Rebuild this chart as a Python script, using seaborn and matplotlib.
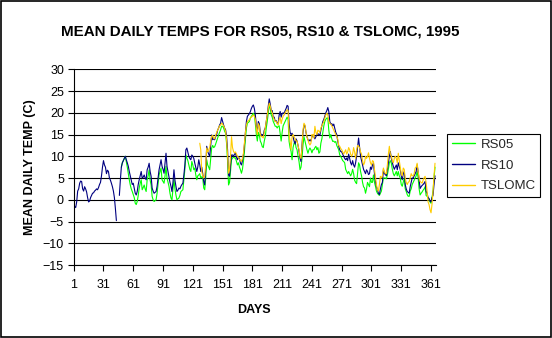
import numpy as np
import pandas as pd
import matplotlib
matplotlib.use("Agg")
import matplotlib.pyplot as plt
from matplotlib.lines import Line2D
from matplotlib.patches import Rectangle
import seaborn as sns

nan = np.nan

# Day of year 1..365
days = list(range(1, 366))

# Mean daily temperature (C) at RS10, days 1-365 (NaN = no record)
rs10 = [
    -1.5, -1.5, -1.8, -0.5, 2.0, 2.5, 3.8, 4.3, 4.2, 2.5,
    2.0, 3.0, 2.5, 1.8, 0.5, -0.5, -0.3, 0.5, 1.0, 1.5,
    1.6, 2.0, 2.2, 2.5, 2.3, 2.8, 3.5, 4.0, 5.5, 7.5,
    9.0, 8.0, 7.5, 6.0, 6.8, 6.5, 5.0, 4.5, 3.8, 3.0,
    2.0, 0.5, -2.0, -4.8, nan, nan, 1.0, 4.5, 7.5, 8.5,
    9.0, 9.5, 10.0, 9.2, 8.5, 7.7, 6.5, 5.5, 4.5, 3.5,
    3.8, 2.7, 1.5, 1.1, 1.9, 3.5, 4.6, 5.5, 6.5, 5.0,
    5.2, 5.7, 5.0, 4.6, 6.9, 7.5, 8.4, 6.5, 5.4, 2.7,
    2.0, 1.5, 1.7, 1.9, 3.1, 5.0, 6.9, 8.0, 9.2, 7.7,
    7.0, 6.1, 8.5, 10.7, 7.7, 6.5, 5.4, 4.0, 3.1, 1.9,
    4.0, 6.9, 4.5, 3.1, 1.9, 2.2, 2.7, 2.5, 3.1, 3.5,
    3.8, 5.7, 8.0, 11.5, 11.9, 11.0, 10.0, 9.5, 9.2, 10.3,
    10.0, 9.5, 8.4, 7.5, 6.5, 7.5, 9.2, 8.0, 6.5, 7.5,
    6.0, 4.2, 3.4, 7.0, 12.3, 11.1, 10.5, 10.0, 12.5, 14.9,
    13.8, 14.0, 13.8, 14.5, 15.0, 16.0, 16.5, 17.2, 17.6, 18.9,
    18.0, 17.2, 16.5, 16.1, 14.6, 11.5, 5.7, 5.4, 8.0, 10.3,
    10.3, 10.0, 10.5, 10.7, 9.8, 9.2, 9.8, 9.5, 8.4, 8.0,
    9.0, 10.3, 12.6, 15.5, 18.0, 19.2, 19.5, 19.8, 20.3, 21.0,
    21.5, 21.8, 21.0, 19.5, 17.0, 15.5, 18.0, 17.5, 15.5, 14.8,
    15.0, 14.8, 16.0, 16.5, 18.0, 19.5, 21.5, 23.2, 22.0, 20.5,
    20.5, 19.0, 19.0, 18.0, 18.2, 17.6, 17.6, 19.5, 20.3, 19.0,
    19.8, 20.0, 19.8, 20.5, 21.0, 21.7, 21.5, 17.6, 15.5, 15.0,
    15.3, 14.5, 13.5, 12.8, 14.0, 13.5, 12.5, 11.1, 9.5, 8.8,
    12.6, 15.5, 17.2, 17.0, 15.5, 14.5, 13.8, 13.5, 13.8, 13.5,
    14.5, 15.0, 14.5, 14.0, 14.5, 15.0, 15.2, 15.0, 14.8, 16.0,
    17.0, 18.0, 18.5, 19.2, 20.0, 20.5, 21.2, 20.3, 18.0, 17.4,
    17.5, 17.0, 17.4, 16.5, 15.5, 15.0, 13.5, 12.3, 11.5, 11.1,
    11.0, 10.5, 10.0, 9.5, 9.2, 9.6, 9.0, 10.5, 9.5, 8.5,
    8.0, 9.0, 8.0, 7.5, 8.5, 10.0, 12.0, 14.2, 12.0, 10.0,
    9.0, 8.0, 7.0, 6.5, 6.0, 6.9, 6.5, 5.8, 6.0, 7.5,
    7.0, 8.0, 8.4, 6.0, 4.2, 3.0, 2.3, 1.5, 1.2, 2.5,
    3.5, 4.0, 6.9, 6.0, 5.8, 5.5, 6.9, 8.5, 10.0, 11.1,
    9.5, 8.5, 7.7, 7.0, 7.5, 8.0, 6.9, 8.5, 7.7, 6.9,
    5.5, 4.6, 6.0, 6.5, 3.5, 2.5, 1.9, 1.7, 1.5, 3.0,
    4.0, 5.0, 5.0, 5.5, 6.0, 6.5, 8.0, 6.5, 4.5, 2.6,
    3.0, 3.3, 3.5, 3.8, 4.2, 2.0, 1.5, 0.5, 0.3, -0.3,
    -0.5, 0.5, 1.0, 3.5, 5.5,
]

# RS05, recording from day 49
rs05 = [nan] * 48 + [
    7.5, 8.5,
    9.0, 9.5, 10.0, 8.8, 7.5, 6.0, 4.6, 3.4, 2.5, 1.9,
    1.2, 0.5, -0.8, -1.1, -0.4, 1.0, 2.7, 3.8, 4.6, 2.3,
    2.8, 3.4, 2.5, 1.9, 4.6, 5.5, 6.9, 4.5, 3.4, 0.8,
    0.0, -0.4, -0.2, 0.0, 1.5, 3.5, 5.7, 6.5, 7.3, 4.6,
    4.2, 3.8, 5.5, 7.7, 5.0, 4.0, 3.1, 1.5, 0.4, 0.0,
    2.5, 4.6, 2.5, 1.1, 0.0, 0.2, 0.4, 1.0, 1.9, 2.1,
    2.3, 4.6, 7.0, 10.3, 9.6, 9.0, 8.0, 7.0, 6.5, 8.8,
    8.0, 6.9, 7.3, 5.7, 4.6, 5.5, 5.7, 6.0, 5.0, 5.3,
    5.0, 2.7, 2.3, 5.0, 9.2, 8.0, 7.5, 6.9, 9.5, 11.9,
    12.5, 12.0, 12.2, 12.8, 13.5, 14.2, 14.9, 15.5, 16.1, 16.9,
    16.9, 16.5, 15.8, 15.3, 13.0, 9.0, 3.4, 4.0, 6.5, 9.2,
    9.6, 9.8, 9.6, 9.6, 8.8, 8.0, 8.5, 7.5, 6.9, 6.1,
    7.0, 8.8, 11.1, 14.0, 16.5, 17.6, 17.8, 18.0, 18.8, 19.2,
    19.5, 19.9, 19.5, 17.5, 15.0, 13.5, 15.5, 15.0, 13.5, 13.0,
    12.2, 12.0, 13.5, 14.5, 16.5, 18.0, 20.0, 21.8, 21.0, 19.5,
    19.0, 18.0, 17.5, 16.9, 16.9, 16.5, 16.9, 17.0, 15.3, 13.5,
    15.5, 17.0, 17.5, 18.0, 18.5, 19.0, 18.5, 13.4, 12.0, 11.1,
    9.2, 12.0, 13.0, 13.5, 12.0, 11.5, 10.0, 8.8, 6.9, 7.5,
    9.5, 12.6, 14.5, 13.5, 12.6, 11.5, 10.7, 11.5, 11.9, 11.5,
    10.8, 11.5, 11.5, 12.0, 12.3, 11.5, 12.0, 10.7, 11.0, 13.0,
    14.0, 15.5, 17.0, 18.0, 18.5, 18.8, 18.8, 16.0, 14.2, 15.0,
    14.0, 13.4, 13.5, 13.2, 13.4, 12.5, 12.0, 11.5, 10.3, 10.0,
    9.5, 9.0, 8.8, 8.5, 7.0, 6.5, 6.0, 6.5, 6.0, 5.5,
    6.0, 7.0, 6.0, 4.5, 4.0, 3.7, 6.0, 8.5, 8.0, 6.5,
    5.5, 4.0, 3.0, 2.7, 1.5, 2.5, 4.0, 3.5, 3.0, 5.0,
    4.0, 4.0, 5.7, 4.0, 3.1, 2.0, 1.5, 1.2, 1.0, 1.5,
    2.0, 3.5, 5.0, 5.0, 5.0, 4.8, 5.7, 7.0, 8.5, 9.0,
    8.4, 7.0, 6.0, 5.5, 6.0, 6.5, 5.5, 6.5, 5.5, 5.0,
    3.5, 3.1, 4.0, 5.0, 2.5, 1.9, 1.2, 0.8, 0.8, 2.0,
    2.5, 3.5, 4.0, 4.5, 5.0, 5.5, 6.5, 5.0, 2.5, 1.1,
    1.5, 1.8, 2.2, 2.5, 3.0, 1.0, 0.8, 0.5, 0.0, -0.5,
    -0.8, 0.5, 2.0, 5.0, 7.5,
]

# TSLOMC, recording from day 128
tslomc = [nan] * 127 + [
    13.0, 11.5, 6.5,
    5.5, 5.0, 5.5, 8.0, 11.9, 11.0, 11.5, 12.0, 13.5, 14.6,
    14.8, 14.2, 14.0, 14.8, 15.5, 16.0, 16.5, 17.0, 17.2, 17.6,
    17.4, 17.0, 16.5, 15.7, 13.8, 10.3, 6.1, 7.0, 10.0, 14.5,
    12.0, 11.1, 10.8, 11.0, 10.5, 10.0, 9.8, 9.2, 9.2, 8.8,
    9.5, 10.7, 13.0, 15.5, 17.2, 18.0, 18.2, 18.4, 18.8, 19.0,
    19.2, 19.5, 19.2, 18.5, 16.5, 15.0, 17.5, 17.0, 15.0, 14.5,
    14.5, 14.2, 15.5, 16.5, 18.0, 19.5, 21.0, 22.2, 21.5, 20.5,
    20.0, 19.0, 18.5, 18.0, 18.0, 17.5, 17.2, 18.5, 19.0, 17.5,
    18.5, 19.2, 19.5, 20.0, 20.3, 20.7, 20.5, 15.0, 13.5, 11.5,
    14.5, 15.0, 14.5, 14.0, 13.5, 13.5, 12.5, 11.5, 10.0, 9.5,
    12.0, 16.0, 17.6, 17.2, 15.5, 14.5, 13.8, 13.0, 12.6, 13.0,
    15.0, 15.0, 14.2, 16.9, 15.5, 15.0, 16.0, 15.8, 15.5, 16.5,
    17.0, 17.5, 18.0, 18.8, 19.5, 19.9, 19.5, 18.0, 17.5, 17.4,
    17.0, 16.5, 16.0, 15.5, 15.0, 14.5, 14.0, 12.5, 12.3, 11.8,
    11.5, 11.0, 10.5, 11.0, 11.5, 10.5, 11.0, 12.0, 11.5, 10.5,
    10.0, 10.5, 12.0, 11.0, 9.5, 11.5, 12.5, 12.3, 12.0, 11.0,
    10.5, 9.0, 8.0, 8.5, 10.0, 9.5, 10.0, 10.8, 9.5, 8.5,
    8.0, 9.0, 8.8, 7.0, 5.0, 3.5, 2.3, 2.0, 3.5, 5.4,
    5.0, 5.5, 7.3, 6.5, 6.0, 6.0, 8.0, 10.5, 12.3, 10.5,
    10.0, 9.0, 8.5, 9.5, 10.0, 9.5, 8.5, 10.7, 9.0, 7.5,
    6.0, 5.5, 7.3, 7.0, 5.0, 4.0, 3.5, 4.0, 4.2, 5.0,
    6.0, 5.5, 5.5, 6.0, 7.3, 7.5, 8.4, 6.5, 5.0, 4.2,
    4.0, 3.8, 4.5, 5.0, 5.4, 4.0, 2.0, -0.5, -1.1, -2.3,
    -3.0, -1.0, 2.0, 5.5, 8.4,
]

series_names = ["RS05", "RS10", "TSLOMC"]
series_colors = ["#00FF00", "#000080", "#FFCC00"]
y_ticks = list(range(-15, 31, 5))
x_ticks = list(range(1, 366, 30))

title = "MEAN DAILY TEMPS FOR RS05, RS10 & TSLOMC, 1995"
x_label = "DAYS"
y_label = "MEAN DAILY TEMP (C)"

# long-form table; each unbroken run of records gets its own segment id
frames = []
for name, vals in zip(series_names, [rs05, rs10, tslomc]):
    part = pd.DataFrame({"day": days, "temp": vals, "series": name})
    part["seg"] = part["temp"].isna().cumsum()
    frames.append(part.dropna())
df = pd.concat(frames, ignore_index=True)

sns.set_theme(style="white")
plt.rcParams["font.family"] = ["Liberation Sans", "DejaVu Sans"]

W, H = 552, 338
fig = plt.figure(figsize=(W / 100, H / 100), dpi=100)
fig.patch.set_facecolor("white")

# plot area in pixel coordinates
left, right, top, bottom = 73.7, 436.0, 69.3, 265.0
ax = fig.add_axes([left / W, 1 - bottom / H, (right - left) / W, (bottom - top) / H])
ax.set_facecolor("white")

sns.lineplot(
    data=df, x="day", y="temp", hue="series", units="seg", estimator=None,
    hue_order=series_names, palette=dict(zip(series_names, series_colors)),
    linewidth=0.8, sort=False, legend=False, ax=ax,
)

ax.set_xlim(1, 366)
ax.set_ylim(-15, 30)
ax.set_xticks(x_ticks)
ax.set_yticks(y_ticks)
ax.set_xlabel("")
ax.set_ylabel("")
ax.grid(axis="y", color="black", linewidth=0.8)
ax.grid(axis="x", visible=False)
for side in ("top", "right"):
    ax.spines[side].set_visible(False)
for side in ("left", "bottom"):
    ax.spines[side].set_color("black")
    ax.spines[side].set_linewidth(0.8)
ax.tick_params(axis="both", direction="out", length=4, width=0.8, color="black",
               labelsize=9, labelcolor="black", pad=3)
ax.tick_params(axis="x", bottom=True, pad=6)
ax.tick_params(axis="y", left=True)

fig.text(260 / W, 1 - 31 / H, title, ha="center", va="center",
         fontsize=10.9, fontweight="bold", color="black")
fig.text(30 / W, 1 - 167 / H, y_label, ha="center", va="center", rotation=90,
         fontsize=9, fontweight="bold", color="black")
fig.text(254 / W, 1 - 310 / H, x_label, ha="center", va="center",
         fontsize=9, fontweight="bold", color="black")

handles = [Line2D([0], [0], color=c, linewidth=1.0) for c in series_colors]
leg = ax.legend(
    handles, series_names, loc="upper left",
    bbox_to_anchor=(447 / W, 1 - 134 / H), bbox_transform=fig.transFigure,
    borderaxespad=0, fontsize=9.5, frameon=True, fancybox=False, shadow=False,
    handlelength=1.75, handletextpad=0.45, labelspacing=0.65, borderpad=0.35,
)
leg.get_frame().set_edgecolor("black")
leg.get_frame().set_linewidth(0.8)
leg.get_frame().set_facecolor("white")
leg.get_frame().set_alpha(1)

# outer chart border
fig.patches.append(Rectangle((0.001, 0.0015), 0.998, 0.997, transform=fig.transFigure,
                             fill=False, edgecolor="black", linewidth=1.2))

fig.savefig("out.png", dpi=100, facecolor="white")
